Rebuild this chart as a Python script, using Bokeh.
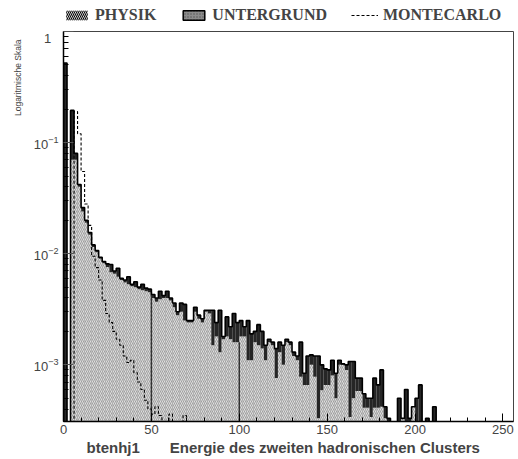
import numpy as np
from bokeh.plotting import figure
from bokeh.layouts import column
from bokeh.models import FixedTicker, LogTickFormatter, Legend, LegendItem, Range1d, Title
from bokeh.embed import file_html
from bokeh.resources import INLINE

# ---------------- data ----------------
bin_width = 2.0
x_limits = (0, 256)
y_limits = (10 ** -3.51, 1.0)
x_major_ticks = [0, 50, 100, 150, 200, 250]
y_major_ticks = [1e-3, 1e-2, 1e-1, 1.0]
legend_labels = ["PHYSIK", "UNTERGRUND", "MONTECARLO"]
y_title = "Logaritmische Skala"
x_title_left = "btenhj1"
x_title_right = "Energie des zweiten hadronischen Clusters"

# PHYSIK (hatched, light) per 2-unit bin starting at 0
physik = [
    0, 0, 0.07, 0.07, 0.040, 0.024, 0.019, 0.0148, 0.0115, 0.0103,
    0.0090, 0.0082, 0.0076, 0.0068, 0.0066, 0.0062, 0.0058, 0.0055, 0.0053, 0.0051,
    0.0050, 0.0048, 0.0047, 0.0046, 0.0045, 0.0040, 0.0037, 0.0039, 0.0040, 0.0040,
    0.0038, 0.0033, 0.0028, 0.0030, 0.0025, 0.0024, 0.0024, 0.0030, 0.0026, 0.0024,
    0.0030, 0.0029, 0.0015, 0.0018, 0.0013, 0.0017, 0.0018, 0.0017, 0.0016, 0.0016,
    0.0018, 0.0018, 0.0011, 0.0011, 0.0016, 0.0015, 0.0014, 0.0011, 0.0016, 0.0015,
    0.00076, 0.0013, 0.0010, 0.0016, 0.0015, 0.0012, 0.0011, 0.00078, 0.00066, 0.00066,
    0.0010, 0.00078, 0.00033, 0.00059, 0.00066, 0.00066, 0.00080, 0.0005, 0.0010, 0.0010,
    0.0009, 0.00034, 0.0005, 0.00058, 0.00058, 0.00041, 0.00041, 0.00034, 0.00041, 0.00041,
    0.00042, 0.00033, 0, 0, 0, 0, 0.00033, 0, 0, 0.00042,
    0, 0, 0, 0, 0, 0, 0,
]
# UNTERGRUND (dark) stacked on top of PHYSIK
untergrund = [
    0.52, 0, 0.125, 0.01, 0.002, 0.002, 0.001, 0.0007, 0.0005, 0.0004,
    0.0003, 0.0003, 0.0005, 0.0012, 0.0004, 0.0012, 0.0002, 0.0003, 0.0009, 0.0002,
    0.0006, 0.0002, 0.0006, 0.0003, 0.0003, 0.0003, 0.0003, 0.0007, 0.0002, 0.0006,
    0.0002, 0.0003, 0.0002, 0.0006, 0.0010, 0.0001, 0.0001, 0.0003, 0.0002, 0.0002,
    0.0001, 0.0002, 0.0016, 0.0006, 0.0018, 0.0001, 0.0009, 0.0005, 0.0013, 0.0008,
    0.0007, 0.0004, 0.0014, 0.0008, 0.0004, 0.0008, 0.0006, 0.0004, 0.0001, 0.0001,
    0.00064, 0.0003, 0.0005, 0.0001, 0.0001, 0.0001, 0.0001, 0.00082, 0.00018, 0.00054,
    0.00023, 0.00042, 0.00087, 0.00041, 0.00026, 0.00024, 0.0003, 0.00034, 0.0001, 0.00002,
    0.0001, 0.00073, 0.00057, 0.00018, 0.00018, 0.00014, 0.00009, 0.00016, 0.00035, 0.00025,
    0.00048, 0.00009, 0.00033, 0, 0, 0.0005, 0, 0.0006, 0.00033, 0,
    0.0005, 0.00066, 0, 0.00033, 0, 0.00042, 0,
]
# MONTECARLO (dashed outline)
montecarlo = [
    0, 0, 0, 0.19, 0.12, 0.055, 0.028, 0.018, 0.0095, 0.0075,
    0.0058, 0.0038, 0.0029, 0.0024, 0.0020, 0.0017, 0.0015, 0.0012, 0.00105, 0.0011,
    0.00085, 0.0007, 0.0006, 0.00048, 0.0004, 0.00036, 0.00042, 0.00035, 0, 0,
    0.00036, 0, 0, 0, 0.00035,
]
# thin dark lines drawn inside the hatched area at these bin edges
marker_edges = [50, 100]

# ---------------- derived ----------------
floor = 1e-6
phy = np.array(physik, dtype=float)
bkg = np.array(untergrund, dtype=float)
mc = np.array(montecarlo, dtype=float)
total = phy + bkg
edges = np.arange(len(phy) + 1) * bin_width
mc_edges = np.arange(len(mc) + 1) * bin_width


def step_path(e, vals):
    v = np.where(vals > 0, vals, floor)
    xs = np.repeat(e, 2)
    ys = np.concatenate([[floor], np.repeat(v, 2), [floor]])
    return xs, ys


# ---------------- legend strip ----------------
lg = figure(width=518, height=30, output_backend="svg", toolbar_location=None,
            x_range=Range1d(0, 1), y_range=Range1d(0, 1),
            x_axis_location=None, y_axis_location=None,
            min_border_left=63, min_border_right=0, min_border_top=0, min_border_bottom=0)
lg.title = None
lg.outline_line_color = None
lg.xgrid.visible = False
lg.ygrid.visible = False
# legend glyphs (their single sample lies outside the strip's visible range)
r_phy = lg.quad(left=[2], right=[3], top=[3], bottom=[2], fill_color="white", line_color=None,
                hatch_pattern="\\", hatch_color="black", hatch_scale=4, hatch_weight=1.1)
r_bkg = lg.quad(left=[2], right=[3], top=[3], bottom=[2], fill_color="#8c8c8c",
                line_color="black", line_width=1.5,
                hatch_pattern=".", hatch_color="#555555", hatch_scale=3)
r_mc = lg.line(x=[2, 3], y=[2, 2], line_color="black", line_width=1.2, line_dash="3 2")
legend = Legend(items=[LegendItem(label=legend_labels[0], renderers=[r_phy]),
                       LegendItem(label=legend_labels[1], renderers=[r_bkg]),
                       LegendItem(label=legend_labels[2], renderers=[r_mc])],
                orientation="horizontal", location="left",
                glyph_width=27, glyph_height=12, label_standoff=5, spacing=24,
                padding=0, margin=0, border_line_color=None, background_fill_alpha=0,
                label_text_font="Liberation Serif", label_text_font_style="bold",
                label_text_font_size="16px", label_height=16)
lg.add_layout(legend, "center")

# ---------------- main plot ----------------
p = figure(width=518, height=429, output_backend="svg", toolbar_location=None,
           x_range=Range1d(*x_limits), y_range=Range1d(*y_limits), y_axis_type="log",
           min_border_left=62, min_border_right=5, min_border_top=1, min_border_bottom=38)
p.title = None
p.xgrid.visible = False
p.ygrid.visible = False
p.outline_line_color = "#444444"
p.outline_line_width = 1
p.background_fill_color = "white"
p.border_fill_color = "white"

# total (dark part = UNTERGRUND on top)
p.quad(left=edges[:-1], right=edges[1:], bottom=floor,
       top=np.where(total > 0, total, floor),
       fill_color="#262626", line_color=None)
# PHYSIK hatched light fill
p.quad(left=edges[:-1], right=edges[1:], bottom=floor,
       top=np.where(phy > 0, phy, floor),
       fill_color="#dedede", line_color=None,
       hatch_pattern="\\", hatch_color="#8f8f8f", hatch_scale=4, hatch_weight=0.8)
# marker lines
for xe in marker_edges:
    k = int(round(xe / bin_width)) - 1
    p.segment(x0=[xe], y0=[floor], x1=[xe], y1=[phy[k]], line_color="#333333", line_width=1.5)
# outline of the total
tx, ty = step_path(edges, total)
p.line(tx, ty, line_color="black", line_width=1.6)
# MONTECARLO dashed
mx, my = step_path(mc_edges, mc)
p.line(mx, my, line_color="black", line_width=1.1, line_dash="3 2")

# axes
xa = p.xaxis[0]
xa.ticker = FixedTicker(ticks=x_major_ticks,
                        minor_ticks=[v for v in range(0, 260, 10) if v % 50])
xa.major_tick_in = 8
xa.major_tick_out = 0
xa.minor_tick_in = 4
xa.minor_tick_out = 0
xa.axis_line_color = "black"
xa.axis_line_width = 1.5
xa.major_label_text_font = "Liberation Sans"
xa.major_label_text_font_size = "13px"
xa.major_label_standoff = 3

ya = p.yaxis[0]
ya.ticker = FixedTicker(ticks=y_major_ticks,
                        minor_ticks=[m * 10.0 ** e for e in (-4, -3, -2, -1) for m in range(2, 10)])
ya.formatter = LogTickFormatter()
ya.major_label_overrides = {1: "1\u2007"}
ya.major_tick_in = 10
ya.major_tick_out = 0
ya.minor_tick_in = 5
ya.minor_tick_out = 0
ya.major_tick_line_color = "#555555"
ya.axis_line_color = "black"
ya.axis_line_width = 1.5
ya.major_label_text_font = "Liberation Sans"
ya.major_label_text_font_size = "13px"
ya.major_label_standoff = 5

# titles
p.add_layout(Title(text=y_title, align="right", standoff=16, offset=8,
                   text_font="Liberation Sans", text_font_style="normal",
                   text_font_size="8.5px"), "left")
p.add_layout(Title(text=x_title_left + "\u2003\u2003" + x_title_right, align="left",
                   offset=23, standoff=0, text_font="Liberation Sans",
                   text_font_style="bold", text_font_size="15px"), "below")

layout = column(lg, p, spacing=0)
open("out.html", "w").write(file_html(layout, INLINE))
